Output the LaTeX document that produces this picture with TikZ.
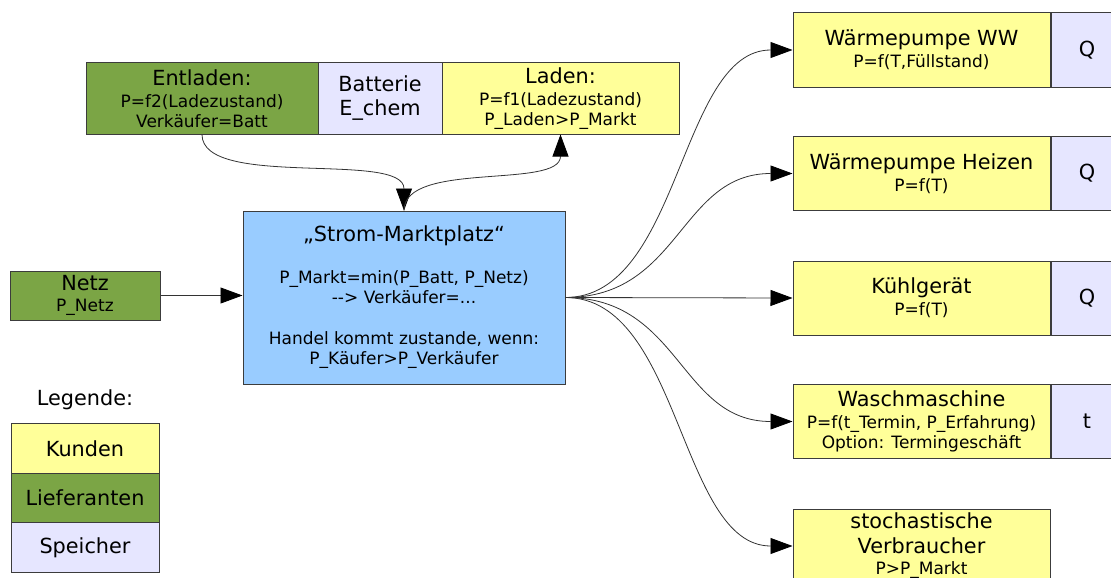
\documentclass[tikz,border=0pt]{standalone}
\usepackage{fontspec}
\setmainfont{DejaVu Sans}
\usetikzlibrary{arrows.meta}
\definecolor{cgreen}{HTML}{7BA545}
\definecolor{cyellow}{HTML}{FFFF99}
\definecolor{clav}{HTML}{E6E6FF}
\definecolor{cblue}{HTML}{99CCFF}
\definecolor{cborder}{HTML}{3C3C3C}
\newcommand\lgT{\fontsize{20.8}{24}\selectfont}
\newcommand\smT{\fontsize{17}{20}\selectfont}
\begin{document}
\begin{tikzpicture}[x=1pt,y=-1pt,
  box/.style={draw=cborder, line width=1pt, inner sep=0pt, align=center, font=\smT},
  kunde/.style={box, fill=cyellow},
  lief/.style={box, fill=cgreen},
  speicher/.style={box, fill=clav},
  markt/.style={box, fill=cblue},
  conn/.style={draw=black!80, line width=0.8pt, -{Triangle[length=22pt,width=16pt,color=black,fill=black]}}]
\useasboundingbox (0,0) rectangle (1111,578);
\clip (0,0) rectangle (1111,578);

% battery group
\node[lief, minimum width=232, minimum height=71] (ent) at (202,98.5)
  {{\lgT Entladen:}\\[2pt] P=f2(Ladezustand)\\ Verkäufer=Batt};
\node[speicher, minimum width=124, minimum height=71] (bat) at (380,98.5)
  {\lgT Batterie\\[4pt] \lgT E\_chem};
\node[kunde, minimum width=237, minimum height=71] (lad) at (560.5,98.5)
  {{\lgT Laden:}\\[2pt] P=f1(Ladezustand)\\ P\_Laden>P\_Markt};

% market
\node[markt, minimum width=322, minimum height=173] (mk) at (404,297.5)
  {{\lgT „Strom-Marktplatz“}\\[22pt] P\_Markt=min(P\_Batt, P\_Netz)\\ -\kern0pt-\kern0pt> Verkäufer=...\\[21pt] Handel kommt zustande, wenn:\\ P\_Käufer>P\_Verkäufer};

% grid
\node[lief, minimum width=150, minimum height=49] (netz) at (85,295.5)
  {{\lgT Netz}\\[1pt] P\_Netz};

% consumers
\node[kunde, minimum width=257, minimum height=74] (ww) at (921.5,50)
  {{\lgT Wärmepumpe WW}\\[2pt] P=f(T,Füllstand)};
\node[speicher, minimum width=72, minimum height=74, anchor=west, font=\lgT] (wwq) at (ww.east) {Q};

\node[kunde, minimum width=257, minimum height=74] (hz) at (921.5,173.5)
  {{\lgT Wärmepumpe Heizen}\\[2pt] P=f(T)};
\node[speicher, minimum width=72, minimum height=74, anchor=west, font=\lgT] (hzq) at (hz.east) {Q};

\node[kunde, minimum width=257, minimum height=74] (kg) at (921.5,298)
  {{\lgT Kühlgerät}\\[2pt] P=f(T)};
\node[speicher, minimum width=72, minimum height=74, anchor=west, font=\lgT] (kgq) at (kg.east) {Q};

\node[kunde, minimum width=257, minimum height=74] (wm) at (921.5,421.5)
  {{\lgT Waschmaschine}\\[2pt] P=f(t\_Termin, P\_Erfahrung)\\ Option: Termingeschäft};
\node[speicher, minimum width=72, minimum height=74, anchor=west, font=\lgT] (wmq) at (wm.east) {t};

\node[kunde, minimum width=257, minimum height=74] (st) at (921.5,546)
  {{\lgT stochastische}\\[5pt] {\lgT Verbraucher}\\[1pt] P>P\_Markt};

% legend
\node[font=\lgT, inner sep=0pt] (leg) at (85,400) {Legende:};
\node[kunde, minimum width=148, minimum height=49.5, font=\lgT] (lk) at (85,448.5) {Kunden};
\node[lief, minimum width=148, minimum height=49.5, font=\lgT] (ll) at (85,498) {Lieferanten};
\node[speicher, minimum width=148, minimum height=49.5, font=\lgT] (ls) at (85,547.5) {Speicher};

% connectors
\draw[conn] (ent.south) .. controls +(0,55) and +(0,-60) .. (mk.north);
\draw[conn] (mk.north) .. controls +(0,-50) and +(0,55) .. (lad.south);
\draw[conn] (netz.east) -- (netz.east -| mk.west);
\draw[conn] (mk.east) .. controls +(115,0) and +(-113,0) .. (ww.west);
\draw[conn] (mk.east) .. controls +(115,0) and +(-113,0) .. (hz.west);
\draw[conn] (mk.east) -- (kg.west);
\draw[conn] (mk.east) .. controls +(115,0) and +(-113,0) .. (wm.west);
\draw[conn] (mk.east) .. controls +(115,0) and +(-113,0) .. (st.west);
\end{tikzpicture}
\end{document}
